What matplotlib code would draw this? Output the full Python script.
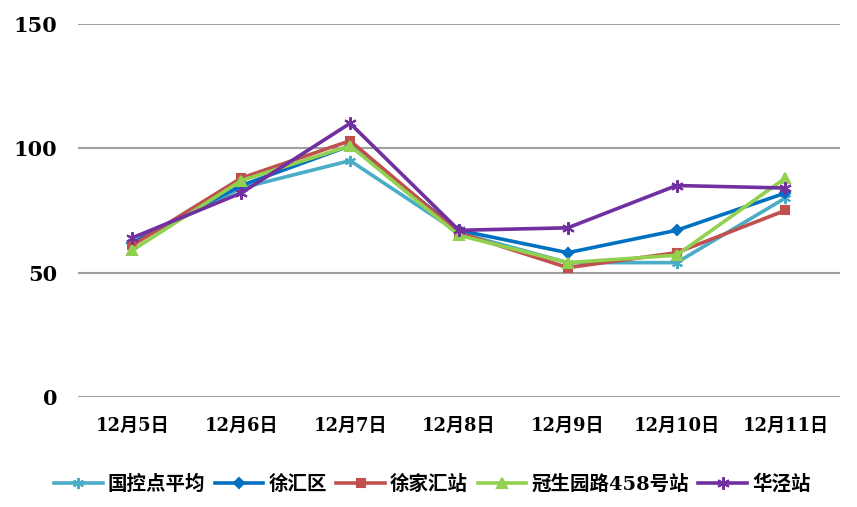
import matplotlib.pyplot as plt

plt.rcParams['font.family'] = ['DejaVu Serif', 'Noto Sans CJK SC', 'DejaVu Sans']

# data
dates = ["12月5日", "12月6日", "12月7日", "12月8日", "12月9日", "12月10日", "12月11日"]
guokong_avg = [62, 84, 95, 66, 54, 54, 80]
xuhui_qu = [62, 85, 101, 67, 58, 67, 82]
xujiahui = [61, 88, 103, 66, 52, 58, 75]
guanshengyuan = [59, 87, 101, 65, 54, 57, 88]
huajing = [64, 82, 110, 67, 68, 85, 84]

series = [
    ("国控点平均", guokong_avg, "#4BACC6", (6, 2, 0), 8),
    ("徐汇区", xuhui_qu, "#0070C0", "D", 5),
    ("徐家汇站", xujiahui, "#C0504D", "s", 6),
    ("冠生园路458号站", guanshengyuan, "#92D050", "^", 7),
    ("华泾站", huajing, "#7030A0", (6, 2, 0), 9),
]

fig = plt.figure(figsize=(8.57, 5.07), dpi=100)
ax = fig.add_axes([0.091, 0.217, 0.889, 0.736])

x = list(range(len(dates)))
for name, vals, color, marker, ms in series:
    ax.plot(x, vals, color=color, linewidth=2.6, marker=marker, markersize=ms,
            markeredgewidth=1.5, markerfacecolor=color, markeredgecolor=color, label=name)

ax.set_ylim(0, 150)
ax.set_yticks([0, 50, 100, 150])
ax.set_xlim(-0.5, len(dates) - 0.5)
ax.set_xticks(x)
ax.set_xticklabels(dates)
ax.yaxis.grid(True, color="#A0A0A0", linewidth=1.5)
ax.set_axisbelow(True)
for s in ax.spines.values():
    s.set_visible(False)
ax.tick_params(axis="both", length=0)
ax.tick_params(axis="y", pad=15, labelsize=15)
ax.tick_params(axis="x", pad=14, labelsize=13)
for lbl in ax.get_xticklabels() + ax.get_yticklabels():
    lbl.set_fontweight("bold")

leg = ax.legend(loc="upper center", bbox_to_anchor=(0.465, -0.16), ncol=5, frameon=False,
                handlelength=2.5, handletextpad=0.25, columnspacing=0.5,
                prop={"weight": "bold", "size": 14})

fig.savefig("out.png", dpi=100)
